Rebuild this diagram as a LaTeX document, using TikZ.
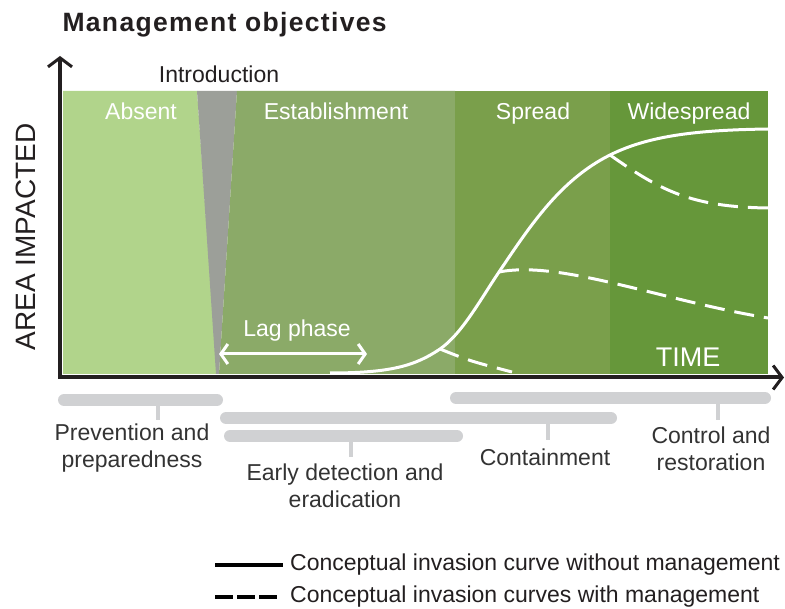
\documentclass[tikz,border=0pt]{standalone}
\usepackage{fontspec}
\setmainfont{Liberation Sans}
\newfontfamily\titlefont[LetterSpace=5.0]{Liberation Sans}
\usetikzlibrary{arrows.meta}
\definecolor{absentgreen}{HTML}{B1D48B}
\definecolor{introgray}{HTML}{9C9F99}
\definecolor{estgreen}{HTML}{8BAA68}
\definecolor{spreadgreen}{HTML}{7A9F4B}
\definecolor{widegreen}{HTML}{66973A}
\definecolor{bargray}{HTML}{D0D1D3}
\definecolor{labelgray}{HTML}{333333}
\definecolor{inkblack}{HTML}{231F20}
\begin{document}
\begin{tikzpicture}[x=1pt,y=-1pt,
	phase/.style={text=white,anchor=base,font=\fontsize{23}{26}\selectfont},
	objlabel/.style={text=labelgray,align=center,anchor=north,inner sep=0pt,font=\fontsize{23}{27}\selectfont},
	objbar/.style={bargray,line width=12pt,line cap=round},
	objtick/.style={bargray,line width=3.5pt},
	invcurve/.style={white,line width=3pt},
	mgmtcurve/.style={white,line width=3pt,dash pattern=on 20pt off 10pt},
	axisline/.style={inkblack,line width=4pt,{Straight Barb[length=9pt,width=24pt,line width=3pt]}-{Straight Barb[length=9pt,width=24pt,line width=3pt]}},
	legline/.style={black,line width=4.5pt}]
	\useasboundingbox (0,0) rectangle (785,609);
	% phases of the invasion
	\fill[absentgreen] (63,91) -- (197,91) -- (217,374) -- (63,374) -- cycle;
	\fill[introgray] (197,91) -- (237,91) -- (219,374) -- (216,374) -- cycle;
	\fill[estgreen] (237,91) -- (455,91) -- (455,374) -- (219,374) -- cycle;
	\fill[spreadgreen] (455,91) rectangle (610,374);
	\fill[widegreen] (610,91) rectangle (768,374);
	\node[phase] (absent) at (141,120) {Absent};
	\node[phase] (estab) at (336,120) {Establishment};
	\node[phase] (spread) at (533,120) {Spread};
	\node[phase] (wide) at (689,120) {Widespread};
	\node[anchor=base,text=inkblack,font=\fontsize{23}{26}\selectfont] (intro) at (219,83) {Introduction};
	% invasion curves
	\coordinate (lagend) at (330,373);
	\coordinate (branchA) at (440,349);
	\coordinate (branchB) at (499,272);
	\coordinate (branchC) at (610,155);
	\coordinate (plateau) at (768,129);
	\draw[invcurve] (lagend) .. controls (390,373) and (415,366) .. (branchA)
		.. controls (462,334) and (482,297) .. (branchB)
		.. controls (530,226) and (560,180) .. (branchC)
		.. controls (650,135) and (700,130) .. (plateau);
	\draw[mgmtcurve] (branchA) .. controls (470,361) .. (512,372);
	\draw[mgmtcurve] (branchB) .. controls (560,260) and (660,300) .. (768,318);
	\draw[mgmtcurve] (branchC) .. controls (660,190) and (690,207) .. (768,208);
	% lag phase
	\coordinate (lagl) at (219,354);
	\coordinate (lagr) at (367,354);
	\draw[white,line width=3pt,{Straight Barb[length=7pt,width=20pt]}-{Straight Barb[length=7pt,width=20pt]}] (lagl) -- (lagr);
	\node[phase] (lag) at (297,337) {Lag phase};
	\node[phase,font=\fontsize{27}{30}\selectfont] (time) at (688,367) {TIME};
	% axes
	\coordinate (ytip) at (60,56);
	\coordinate (origin) at (60,377.5);
	\coordinate (xtip) at (784,377.5);
	\draw[axisline] (ytip) -- (origin) -- (xtip);
	\node[rotate=90,text=inkblack,font=\fontsize{28}{30}\selectfont] (yname) at (26,237) {AREA IMPACTED};
	\node[anchor=base west,text=inkblack,font=\titlefont\bfseries\fontsize{26.5}{30}\selectfont] (title) at (59,32) {Management objectives};
	% management objectives
	\node[objlabel] (prevlbl) at (132,424) {Prevention and\\preparedness};
	\node[objlabel] (earlylbl) at (345,464) {Early detection and\\eradication};
	\node[objlabel] (contlbl) at (545,449) {Containment};
	\node[objlabel] (ctrllbl) at (711,427) {Control and\\restoration};
	\coordinate (prevtick) at (158,400);
	\coordinate (conttick) at (548,418);
	\coordinate (earlytick) at (351,436);
	\coordinate (ctrltick) at (718,398);
	\draw[objtick,shorten >=4pt] (prevtick) -- (prevtick |- prevlbl.north);
	\draw[objtick,shorten >=9pt] (conttick) -- (conttick |- contlbl.north);
	\draw[objtick,shorten >=7pt] (earlytick) -- (earlytick |- earlylbl.north);
	\draw[objtick,shorten >=7pt] (ctrltick) -- (ctrltick |- ctrllbl.north);
	\draw[objbar] (64,400) -- (217,400);
	\draw[objbar] (226,418) -- (611,418);
	\draw[objbar] (230,436) -- (457,436);
	\draw[objbar] (456,398) -- (765,398);
	% legend
	\node[anchor=west,inner sep=0pt,text=inkblack,font=\fontsize{23}{26}\selectfont] (legsolid) at (290,565) {Conceptual invasion curve without management};
	\node[anchor=west,inner sep=0pt,text=inkblack,font=\fontsize{23}{26}\selectfont] (legdash) at (290,597) {Conceptual invasion curves with management};
	\coordinate (solidstart) at (215,565);
	\coordinate (dashstart) at (215,597);
	\draw[legline,shorten >=7pt] (solidstart) -- (legsolid.west);
	\draw[legline,dash pattern=on 18pt off 4pt,shorten >=10pt] (dashstart) -- (legdash.west);
\end{tikzpicture}
\end{document}
